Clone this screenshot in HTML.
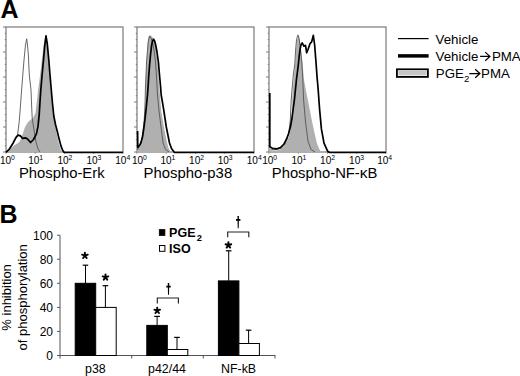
<!DOCTYPE html>
<html><head><meta charset="utf-8"><style>
html,body{margin:0;padding:0;background:#fff;}
body{width:520px;height:376px;overflow:hidden;}
svg{display:block;font-family:"Liberation Sans",sans-serif;}
</style></head><body>
<svg width="520" height="376" viewBox="0 0 520 376">
<rect width="520" height="376" fill="#fff"/>
<text x="0.6" y="17.7" font-size="25" font-weight="bold">A</text>
<rect x="6" y="27" width="117" height="125" fill="none" stroke="#7a7a7a" stroke-width="1.2"/>
<line x1="3" y1="27" x2="6" y2="27" stroke="#7a7a7a" stroke-width="1"/>
<line x1="3" y1="52" x2="6" y2="52" stroke="#7a7a7a" stroke-width="1"/>
<line x1="3" y1="77" x2="6" y2="77" stroke="#7a7a7a" stroke-width="1"/>
<line x1="3" y1="102" x2="6" y2="102" stroke="#7a7a7a" stroke-width="1"/>
<line x1="3" y1="127" x2="6" y2="127" stroke="#7a7a7a" stroke-width="1"/>
<line x1="3" y1="152" x2="6" y2="152" stroke="#7a7a7a" stroke-width="1"/>
<line x1="4.8" y1="33.25" x2="6" y2="33.25" stroke="#7a7a7a" stroke-width="1"/>
<line x1="4.8" y1="39.5" x2="6" y2="39.5" stroke="#7a7a7a" stroke-width="1"/>
<line x1="4.8" y1="45.75" x2="6" y2="45.75" stroke="#7a7a7a" stroke-width="1"/>
<line x1="4.8" y1="58.25" x2="6" y2="58.25" stroke="#7a7a7a" stroke-width="1"/>
<line x1="4.8" y1="64.5" x2="6" y2="64.5" stroke="#7a7a7a" stroke-width="1"/>
<line x1="4.8" y1="70.75" x2="6" y2="70.75" stroke="#7a7a7a" stroke-width="1"/>
<line x1="4.8" y1="83.25" x2="6" y2="83.25" stroke="#7a7a7a" stroke-width="1"/>
<line x1="4.8" y1="89.5" x2="6" y2="89.5" stroke="#7a7a7a" stroke-width="1"/>
<line x1="4.8" y1="95.75" x2="6" y2="95.75" stroke="#7a7a7a" stroke-width="1"/>
<line x1="4.8" y1="108.25" x2="6" y2="108.25" stroke="#7a7a7a" stroke-width="1"/>
<line x1="4.8" y1="114.5" x2="6" y2="114.5" stroke="#7a7a7a" stroke-width="1"/>
<line x1="4.8" y1="120.75" x2="6" y2="120.75" stroke="#7a7a7a" stroke-width="1"/>
<line x1="4.8" y1="133.25" x2="6" y2="133.25" stroke="#7a7a7a" stroke-width="1"/>
<line x1="4.8" y1="139.5" x2="6" y2="139.5" stroke="#7a7a7a" stroke-width="1"/>
<line x1="4.8" y1="145.75" x2="6" y2="145.75" stroke="#7a7a7a" stroke-width="1"/>
<line x1="6.00" y1="152" x2="6.00" y2="153.8" stroke="#7a7a7a" stroke-width="0.8"/>
<line x1="35.25" y1="152" x2="35.25" y2="153.8" stroke="#7a7a7a" stroke-width="0.8"/>
<line x1="64.50" y1="152" x2="64.50" y2="153.8" stroke="#7a7a7a" stroke-width="0.8"/>
<line x1="93.75" y1="152" x2="93.75" y2="153.8" stroke="#7a7a7a" stroke-width="0.8"/>
<line x1="123.00" y1="152" x2="123.00" y2="153.8" stroke="#7a7a7a" stroke-width="0.8"/>
<polygon points="6.0,152.0 8.0,151.0 10.0,149.0 14.0,145.5 18.0,143.0 20.0,141.0 22.0,136.0 25.0,127.0 28.0,122.0 31.0,119.5 33.0,118.0 35.5,113.0 36.5,104.0 37.3,98.0 38.0,91.0 40.1,75.0 42.1,58.0 43.5,46.0 45.0,38.0 46.0,36.5 47.2,42.0 48.4,58.0 49.8,75.0 50.8,90.0 52.0,103.0 53.5,116.0 56.5,133.0 59.0,144.0 61.0,150.5 63.0,152.0" fill="#b0b0b0" stroke="none"/>
<polyline points="6.0,152.0 9.0,149.5 13.0,144.0 16.0,138.0 17.6,134.7 19.2,121.9 20.5,105.0 21.6,90.0 22.8,75.0 24.0,60.0 25.5,45.0 26.7,38.8 27.5,45.0 28.4,55.0 28.8,65.0 29.3,75.0 30.2,83.0 31.0,90.0 31.6,105.0 32.2,118.0 34.0,130.0 36.0,142.0 38.0,149.0 40.0,152.0" fill="none" stroke="#555" stroke-width="0.9" stroke-linejoin="round"/>
<polyline points="6.0,152.3 9.4,149.0 13.0,143.2 16.0,137.3 18.2,135.1 20.4,135.9 22.6,138.4 25.5,137.8 27.7,139.2 30.6,142.5 33.5,139.5 36.5,133.7 38.0,126.4 39.2,114.6 40.1,100.0 40.8,90.0 42.1,75.0 43.5,60.0 44.8,45.0 46.0,35.8 47.3,44.0 48.8,60.0 50.0,75.0 51.3,90.0 52.5,103.6 53.8,116.0 55.5,124.5 57.3,131.5 59.0,138.5 60.8,145.4 62.5,150.0 64.2,152.5 123.0,152.5" fill="none" stroke="#000" stroke-width="1.7" stroke-linejoin="round"/>
<text x="-0.10" y="163.8" font-size="10">10<tspan dy="-4.3" font-size="6.8">0</tspan></text>
<text x="28.20" y="163.8" font-size="10">10<tspan dy="-4.3" font-size="6.8">1</tspan></text>
<text x="57.40" y="163.8" font-size="10">10<tspan dy="-4.3" font-size="6.8">2</tspan></text>
<text x="86.40" y="163.8" font-size="10">10<tspan dy="-4.3" font-size="6.8">3</tspan></text>
<text x="115.30" y="163.8" font-size="10">10<tspan dy="-4.3" font-size="6.8">4</tspan></text>
<rect x="137" y="27" width="117" height="125" fill="none" stroke="#7a7a7a" stroke-width="1.2"/>
<line x1="134" y1="27" x2="137" y2="27" stroke="#7a7a7a" stroke-width="1"/>
<line x1="134" y1="52" x2="137" y2="52" stroke="#7a7a7a" stroke-width="1"/>
<line x1="134" y1="77" x2="137" y2="77" stroke="#7a7a7a" stroke-width="1"/>
<line x1="134" y1="102" x2="137" y2="102" stroke="#7a7a7a" stroke-width="1"/>
<line x1="134" y1="127" x2="137" y2="127" stroke="#7a7a7a" stroke-width="1"/>
<line x1="134" y1="152" x2="137" y2="152" stroke="#7a7a7a" stroke-width="1"/>
<line x1="135.8" y1="33.25" x2="137" y2="33.25" stroke="#7a7a7a" stroke-width="1"/>
<line x1="135.8" y1="39.5" x2="137" y2="39.5" stroke="#7a7a7a" stroke-width="1"/>
<line x1="135.8" y1="45.75" x2="137" y2="45.75" stroke="#7a7a7a" stroke-width="1"/>
<line x1="135.8" y1="58.25" x2="137" y2="58.25" stroke="#7a7a7a" stroke-width="1"/>
<line x1="135.8" y1="64.5" x2="137" y2="64.5" stroke="#7a7a7a" stroke-width="1"/>
<line x1="135.8" y1="70.75" x2="137" y2="70.75" stroke="#7a7a7a" stroke-width="1"/>
<line x1="135.8" y1="83.25" x2="137" y2="83.25" stroke="#7a7a7a" stroke-width="1"/>
<line x1="135.8" y1="89.5" x2="137" y2="89.5" stroke="#7a7a7a" stroke-width="1"/>
<line x1="135.8" y1="95.75" x2="137" y2="95.75" stroke="#7a7a7a" stroke-width="1"/>
<line x1="135.8" y1="108.25" x2="137" y2="108.25" stroke="#7a7a7a" stroke-width="1"/>
<line x1="135.8" y1="114.5" x2="137" y2="114.5" stroke="#7a7a7a" stroke-width="1"/>
<line x1="135.8" y1="120.75" x2="137" y2="120.75" stroke="#7a7a7a" stroke-width="1"/>
<line x1="135.8" y1="133.25" x2="137" y2="133.25" stroke="#7a7a7a" stroke-width="1"/>
<line x1="135.8" y1="139.5" x2="137" y2="139.5" stroke="#7a7a7a" stroke-width="1"/>
<line x1="135.8" y1="145.75" x2="137" y2="145.75" stroke="#7a7a7a" stroke-width="1"/>
<line x1="137.00" y1="152" x2="137.00" y2="153.8" stroke="#7a7a7a" stroke-width="0.8"/>
<line x1="166.25" y1="152" x2="166.25" y2="153.8" stroke="#7a7a7a" stroke-width="0.8"/>
<line x1="195.50" y1="152" x2="195.50" y2="153.8" stroke="#7a7a7a" stroke-width="0.8"/>
<line x1="224.75" y1="152" x2="224.75" y2="153.8" stroke="#7a7a7a" stroke-width="0.8"/>
<line x1="254.00" y1="152" x2="254.00" y2="153.8" stroke="#7a7a7a" stroke-width="0.8"/>
<polygon points="137.3,152.5 137.3,150.0 139.0,148.0 140.5,144.5 142.0,139.0 143.3,131.0 144.3,123.0 145.0,115.0 145.5,105.0 145.5,95.0 145.4,89.0 145.9,75.0 146.6,61.0 147.3,48.0 148.2,37.9 149.9,34.9 151.2,36.0 153.0,38.0 154.8,41.2 156.2,50.0 157.4,60.0 158.5,75.0 159.3,88.0 159.9,95.0 161.2,111.0 163.9,127.0 165.5,135.0 167.1,143.0 168.5,148.0 170.3,151.0 171.5,152.5" fill="#b0b0b0" stroke="none"/>
<polyline points="137.3,150.0 139.5,146.5 141.5,140.5 143.0,132.0 144.2,120.0 145.0,105.0 145.4,89.0 146.6,61.0 148.2,42.0 149.5,36.0 151.0,38.0 152.5,42.0 154.0,50.0 155.5,62.0 156.7,80.0 157.5,95.0 159.0,111.0 161.0,127.0 163.1,143.0 165.5,149.5 169.0,152.0" fill="none" stroke="#555" stroke-width="0.9" stroke-linejoin="round"/>
<polyline points="137.6,131.0 137.8,147.5 138.4,146.3 139.7,145.2 140.8,143.0 142.5,137.0 144.0,127.0 145.0,119.0 145.9,111.0 146.7,103.0 147.5,95.0 148.2,85.0 148.8,75.0 149.6,65.0 150.5,55.0 151.5,46.2 152.5,41.0 153.6,39.2 154.6,41.0 155.6,44.5 157.0,52.0 158.4,62.0 159.5,75.0 160.5,86.0 161.2,95.0 162.6,103.0 163.9,111.0 165.1,119.0 166.3,127.0 167.9,135.0 169.5,143.0 171.5,148.5 174.3,152.3 176.0,152.5 254.0,152.5" fill="none" stroke="#000" stroke-width="1.7" stroke-linejoin="round"/>
<text x="131.90" y="163.8" font-size="10">10<tspan dy="-4.3" font-size="6.8">0</tspan></text>
<text x="160.40" y="163.8" font-size="10">10<tspan dy="-4.3" font-size="6.8">1</tspan></text>
<text x="189.10" y="163.8" font-size="10">10<tspan dy="-4.3" font-size="6.8">2</tspan></text>
<text x="217.70" y="163.8" font-size="10">10<tspan dy="-4.3" font-size="6.8">3</tspan></text>
<text x="246.80" y="163.8" font-size="10">10<tspan dy="-4.3" font-size="6.8">4</tspan></text>
<rect x="269" y="27" width="117" height="125" fill="none" stroke="#7a7a7a" stroke-width="1.2"/>
<line x1="266" y1="27" x2="269" y2="27" stroke="#7a7a7a" stroke-width="1"/>
<line x1="266" y1="52" x2="269" y2="52" stroke="#7a7a7a" stroke-width="1"/>
<line x1="266" y1="77" x2="269" y2="77" stroke="#7a7a7a" stroke-width="1"/>
<line x1="266" y1="102" x2="269" y2="102" stroke="#7a7a7a" stroke-width="1"/>
<line x1="266" y1="127" x2="269" y2="127" stroke="#7a7a7a" stroke-width="1"/>
<line x1="266" y1="152" x2="269" y2="152" stroke="#7a7a7a" stroke-width="1"/>
<line x1="267.8" y1="33.25" x2="269" y2="33.25" stroke="#7a7a7a" stroke-width="1"/>
<line x1="267.8" y1="39.5" x2="269" y2="39.5" stroke="#7a7a7a" stroke-width="1"/>
<line x1="267.8" y1="45.75" x2="269" y2="45.75" stroke="#7a7a7a" stroke-width="1"/>
<line x1="267.8" y1="58.25" x2="269" y2="58.25" stroke="#7a7a7a" stroke-width="1"/>
<line x1="267.8" y1="64.5" x2="269" y2="64.5" stroke="#7a7a7a" stroke-width="1"/>
<line x1="267.8" y1="70.75" x2="269" y2="70.75" stroke="#7a7a7a" stroke-width="1"/>
<line x1="267.8" y1="83.25" x2="269" y2="83.25" stroke="#7a7a7a" stroke-width="1"/>
<line x1="267.8" y1="89.5" x2="269" y2="89.5" stroke="#7a7a7a" stroke-width="1"/>
<line x1="267.8" y1="95.75" x2="269" y2="95.75" stroke="#7a7a7a" stroke-width="1"/>
<line x1="267.8" y1="108.25" x2="269" y2="108.25" stroke="#7a7a7a" stroke-width="1"/>
<line x1="267.8" y1="114.5" x2="269" y2="114.5" stroke="#7a7a7a" stroke-width="1"/>
<line x1="267.8" y1="120.75" x2="269" y2="120.75" stroke="#7a7a7a" stroke-width="1"/>
<line x1="267.8" y1="133.25" x2="269" y2="133.25" stroke="#7a7a7a" stroke-width="1"/>
<line x1="267.8" y1="139.5" x2="269" y2="139.5" stroke="#7a7a7a" stroke-width="1"/>
<line x1="267.8" y1="145.75" x2="269" y2="145.75" stroke="#7a7a7a" stroke-width="1"/>
<line x1="269.00" y1="152" x2="269.00" y2="153.8" stroke="#7a7a7a" stroke-width="0.8"/>
<line x1="298.25" y1="152" x2="298.25" y2="153.8" stroke="#7a7a7a" stroke-width="0.8"/>
<line x1="327.50" y1="152" x2="327.50" y2="153.8" stroke="#7a7a7a" stroke-width="0.8"/>
<line x1="356.75" y1="152" x2="356.75" y2="153.8" stroke="#7a7a7a" stroke-width="0.8"/>
<line x1="386.00" y1="152" x2="386.00" y2="153.8" stroke="#7a7a7a" stroke-width="0.8"/>
<polygon points="269.5,152.5 269.5,151.0 276.5,150.5 280.5,149.5 284.0,146.5 286.8,142.0 288.8,136.5 290.6,130.0 291.6,120.0 292.0,110.0 292.2,100.0 292.8,90.0 294.0,75.0 295.2,64.0 296.0,50.0 297.0,40.0 298.9,36.3 299.8,40.0 301.4,52.8 302.8,66.0 304.0,80.0 305.5,88.0 306.8,95.0 308.5,103.0 310.0,111.0 311.6,119.0 313.2,127.0 315.0,135.0 316.8,143.0 318.5,147.5 320.3,151.0 321.5,152.5" fill="#b0b0b0" stroke="none"/>
<polyline points="270.0,150.0 276.0,149.6 281.0,148.3 284.5,145.0 287.0,139.5 289.0,131.0 290.3,120.0 291.2,100.0 292.0,90.0 293.3,75.0 294.8,64.0 295.6,50.0 296.5,40.0 297.5,36.0 298.1,34.9 299.3,40.0 300.5,50.0 301.8,62.0 302.8,80.0 303.6,100.0 305.5,122.0 308.0,141.0 311.0,149.5 315.0,152.0" fill="none" stroke="#555" stroke-width="0.9" stroke-linejoin="round"/>
<polyline points="269.8,93.0 269.8,146.7 272.4,148.3 276.9,148.8 280.5,147.6 284.0,144.0 286.2,139.7 288.5,134.0 290.4,127.0 292.0,118.0 293.3,108.0 294.4,100.0 295.4,90.0 296.4,80.0 297.4,72.0 298.4,64.0 299.2,56.0 300.0,49.6 301.1,44.5 302.2,42.9 303.9,46.2 305.5,45.3 306.7,52.8 308.0,49.5 310.0,43.7 311.6,42.0 313.3,35.4 314.6,44.5 315.9,61.0 317.1,77.5 318.2,90.0 319.6,109.4 321.4,128.9 324.0,143.2 327.6,151.2 329.5,152.5 386.0,152.5" fill="none" stroke="#000" stroke-width="1.7" stroke-linejoin="round"/>
<text x="262.20" y="163.8" font-size="10">10<tspan dy="-4.3" font-size="6.8">0</tspan></text>
<text x="291.40" y="163.8" font-size="10">10<tspan dy="-4.3" font-size="6.8">1</tspan></text>
<text x="320.10" y="163.8" font-size="10">10<tspan dy="-4.3" font-size="6.8">2</tspan></text>
<text x="349.10" y="163.8" font-size="10">10<tspan dy="-4.3" font-size="6.8">3</tspan></text>
<text x="377.20" y="163.8" font-size="10">10<tspan dy="-4.3" font-size="6.8">4</tspan></text>
<text x="19" y="177.9" font-size="14.8">Phospho-Erk</text>
<text x="143.6" y="177.9" font-size="14.9">Phospho-p38</text>
<text x="271.8" y="177.9" font-size="14.8">Phospho-NF-<tspan font-size="15.5">&#954;</tspan>B</text>
<line x1="398" y1="38.6" x2="428.6" y2="38.6" stroke="#000" stroke-width="1.2"/>
<line x1="398" y1="55.9" x2="428.6" y2="55.9" stroke="#000" stroke-width="3.5"/>
<rect x="396.9" y="69.3" width="31" height="7.6" fill="#fff" stroke="#000" stroke-width="1.8"/>
<rect x="398.3" y="70.9" width="28.4" height="4.5" fill="#c6c6c6"/>
<text x="435.6" y="43.6" font-size="13.3">Vehicle</text>
<text x="435.6" y="60.9" font-size="13.3">Vehicle</text>
<text x="491.9" y="60.9" font-size="13.3">PMA</text>
<text x="435.8" y="78.3" font-size="13.3">PGE<tspan dy="4.1" font-size="9.5">2</tspan></text>
<text x="481.1" y="78.3" font-size="13.3">PMA</text>
<path d="M480.1,56.4H489.5M485.2,52.1L489.9,56.4L485.2,60.699999999999996" fill="none" stroke="#000" stroke-width="1.25" stroke-linejoin="miter"/>
<path d="M469.3,73.5H479.5M475.2,69.2L479.9,73.5L475.2,77.8" fill="none" stroke="#000" stroke-width="1.25" stroke-linejoin="miter"/>
<text x="-0.6" y="222.9" font-size="25" font-weight="bold">B</text>
<line x1="60" y1="235.2" x2="60" y2="355.5" stroke="#555" stroke-width="1"/>
<line x1="60" y1="355.5" x2="275.5" y2="355.5" stroke="#555" stroke-width="1"/>
<line x1="57" y1="355.5" x2="60" y2="355.5" stroke="#555" stroke-width="1"/>
<text x="53" y="359.8" font-size="12" text-anchor="end">0</text>
<line x1="57" y1="331.4" x2="60" y2="331.4" stroke="#555" stroke-width="1"/>
<text x="53" y="335.7" font-size="12" text-anchor="end">20</text>
<line x1="57" y1="307.4" x2="60" y2="307.4" stroke="#555" stroke-width="1"/>
<text x="53" y="311.7" font-size="12" text-anchor="end">40</text>
<line x1="57" y1="283.3" x2="60" y2="283.3" stroke="#555" stroke-width="1"/>
<text x="53" y="287.6" font-size="12" text-anchor="end">60</text>
<line x1="57" y1="259.2" x2="60" y2="259.2" stroke="#555" stroke-width="1"/>
<text x="53" y="263.5" font-size="12" text-anchor="end">80</text>
<line x1="57" y1="235.2" x2="60" y2="235.2" stroke="#555" stroke-width="1"/>
<text x="53" y="239.5" font-size="12" text-anchor="end">100</text>
<line x1="60.0" y1="355.5" x2="60.0" y2="358.5" stroke="#555" stroke-width="1"/>
<line x1="131.7" y1="355.5" x2="131.7" y2="358.5" stroke="#555" stroke-width="1"/>
<line x1="203.3" y1="355.5" x2="203.3" y2="358.5" stroke="#555" stroke-width="1"/>
<line x1="275.0" y1="355.5" x2="275.0" y2="358.5" stroke="#555" stroke-width="1"/>
<text transform="translate(11.2,297.4) rotate(-90)" font-size="13" text-anchor="middle">% inhibition</text>
<text transform="translate(27,297.3) rotate(-90)" font-size="13" text-anchor="middle">of phosphorylation</text>
<line x1="85.5" y1="283.3" x2="85.5" y2="265.2" stroke="#000" stroke-width="1"/>
<line x1="82.7" y1="265.2" x2="88.2" y2="265.2" stroke="#000" stroke-width="1.2"/>
<line x1="105.4" y1="307.4" x2="105.4" y2="285.7" stroke="#000" stroke-width="1"/>
<line x1="102.6" y1="285.7" x2="108.2" y2="285.7" stroke="#000" stroke-width="1.2"/>
<rect x="75.2" y="283.3" width="20.5" height="72.2" fill="#000" stroke="#000" stroke-width="1"/>
<rect x="95.7" y="307.4" width="20.5" height="48.1" fill="#fff" stroke="#000" stroke-width="1"/>
<text x="95.4" y="372.9" font-size="12.4" text-anchor="middle">p38</text>
<line x1="157.1" y1="325.4" x2="157.1" y2="316.4" stroke="#000" stroke-width="1"/>
<line x1="154.2" y1="316.4" x2="159.9" y2="316.4" stroke="#000" stroke-width="1.2"/>
<line x1="177.0" y1="349.5" x2="177.0" y2="337.4" stroke="#000" stroke-width="1"/>
<line x1="174.2" y1="337.4" x2="179.8" y2="337.4" stroke="#000" stroke-width="1.2"/>
<rect x="146.8" y="325.4" width="20.5" height="30.1" fill="#000" stroke="#000" stroke-width="1"/>
<rect x="167.3" y="349.5" width="20.5" height="6.0" fill="#fff" stroke="#000" stroke-width="1"/>
<text x="167.0" y="372.9" font-size="12.4" text-anchor="middle">p42/44</text>
<line x1="228.7" y1="280.9" x2="228.7" y2="250.8" stroke="#000" stroke-width="1"/>
<line x1="225.8" y1="250.8" x2="231.5" y2="250.8" stroke="#000" stroke-width="1.2"/>
<line x1="248.6" y1="343.5" x2="248.6" y2="330.2" stroke="#000" stroke-width="1"/>
<line x1="245.8" y1="330.2" x2="251.4" y2="330.2" stroke="#000" stroke-width="1.2"/>
<rect x="218.4" y="280.9" width="20.5" height="74.6" fill="#000" stroke="#000" stroke-width="1"/>
<rect x="238.9" y="343.5" width="20.5" height="12.0" fill="#fff" stroke="#000" stroke-width="1"/>
<text x="238.6" y="372.9" font-size="12.4" text-anchor="middle">NF-kB</text>
<path d="M84.90,255.60L84.90,252.65M84.90,255.60L87.71,254.69M84.90,255.60L86.63,257.99M84.90,255.60L83.17,257.99M84.90,255.60L82.09,254.69" stroke="#000" stroke-width="1.95" stroke-linecap="round" fill="none"/>
<path d="M105.50,277.30L105.50,274.35M105.50,277.30L108.31,276.39M105.50,277.30L107.23,279.69M105.50,277.30L103.77,279.69M105.50,277.30L102.69,276.39" stroke="#000" stroke-width="1.95" stroke-linecap="round" fill="none"/>
<path d="M157.20,310.60L157.20,307.65M157.20,310.60L160.01,309.69M157.20,310.60L158.93,312.99M157.20,310.60L155.47,312.99M157.20,310.60L154.39,309.69" stroke="#000" stroke-width="1.95" stroke-linecap="round" fill="none"/>
<path d="M228.40,245.20L228.40,242.25M228.40,245.20L231.21,244.29M228.40,245.20L230.13,247.59M228.40,245.20L226.67,247.59M228.40,245.20L225.59,244.29" stroke="#000" stroke-width="1.95" stroke-linecap="round" fill="none"/>
<path d="M167.75,283 L169.25,283 L169.0,294.7 L168.0,294.7Z" fill="#000"/><line x1="166.3" y1="286.6" x2="170.7" y2="286.6" stroke="#000" stroke-width="1.8"/>
<path d="M237.45,216.1 L238.95,216.1 L238.7,228.3 L237.7,228.3Z" fill="#000"/><line x1="236.0" y1="219.9" x2="240.39999999999998" y2="219.9" stroke="#000" stroke-width="1.8"/>
<polyline points="157.3,303.5 157.3,298 178.4,298 178.4,303.5" fill="none" stroke="#222" stroke-width="1.15"/>
<polyline points="227.7,237.2 227.7,232 248.8,232 248.8,237.2" fill="none" stroke="#222" stroke-width="1.15"/>
<rect x="159.3" y="229.6" width="5.6" height="5.8" fill="#000" stroke="#000" stroke-width="0.8"/>
<rect x="159.5" y="245.5" width="5.4" height="5.8" fill="#fff" stroke="#000" stroke-width="1"/>
<text x="169.1" y="236.9" font-size="12.5" font-weight="bold">PGE<tspan dx="1.3" dy="4" font-size="9.3">2</tspan></text>
<text x="169.1" y="253.1" font-size="12.5" font-weight="bold">ISO</text>
</svg>
</body></html>
